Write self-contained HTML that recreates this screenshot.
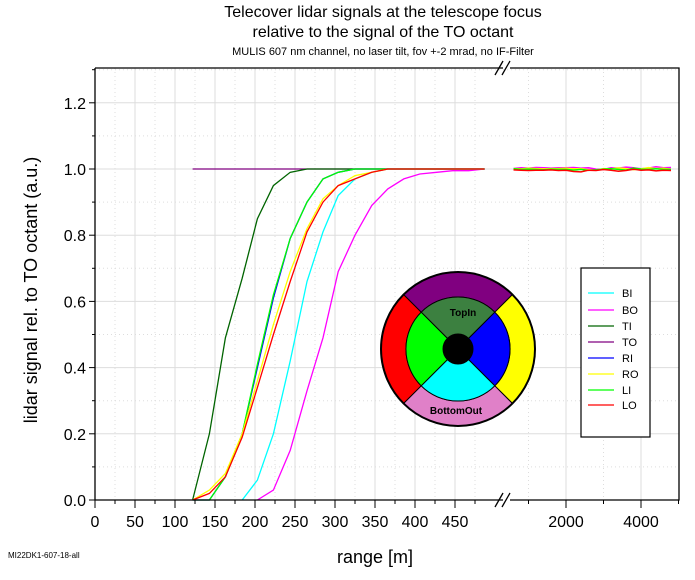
<!DOCTYPE html>
<html><head><meta charset="utf-8"><style>
body{margin:0;background:#fff;}
svg{display:block;font-family:"Liberation Sans",sans-serif;}
</style></head><body>
<svg id="c" width="695" height="580" viewBox="0 0 695 580"></svg>
<script>
const meters=[122,143,163,184,203,223,244,265,285,304,325,346,366,386,406,427,447,467,487];
const seriesNames=["BI","BO","TI","TO","RI","RO","LI","LO"];
const seriesColors=["#00ffff","#ff00ff","#006400","#800080","#0000ff","#ffff00","#00ff00","#ff0000"];
const BI=[null,null,null,0,0.06,0.20,0.42,0.66,0.81,0.92,0.97,0.99,1,1,1,1,1,1,1];
const BO=[null,null,null,null,0,0.03,0.15,0.33,0.49,0.69,0.80,0.89,0.94,0.97,0.985,0.99,0.995,0.995,1];
const TI=[0,0.20,0.49,0.67,0.85,0.95,0.99,1,1,1,1,1,1,1,1,1,1,1,1];
const TO=[1,1,1,1,1,1,1,1,1,1,1,1,1,1,1,1,1,1,1];
const RI=[0,0,0.07,0.20,0.40,0.61,0.79,0.90,0.97,0.99,1,1,1,1,1,1,1,1,1];
const RO=[0,0.03,0.08,0.20,0.36,0.53,0.69,0.82,0.91,0.95,0.98,0.99,1,1,1,1,1,1,1];
const LI=[0,0,0.07,0.20,0.41,0.62,0.79,0.90,0.97,0.99,1,1,1,1,1,1,1,1,1];
const LO=[0,0.02,0.07,0.19,0.34,0.50,0.66,0.81,0.90,0.95,0.97,0.99,1,1,1,1,1,1,1];
const farMeters=[600,800,1000,1200,1400,1600,1800,2000,2200,2400,2600,2800,3000,3200,3400,3600,3800,4000,4200,4400,4600,4800];
const farA=[1,1,1.002,1,1.001,1,0.999,1.001,1,1,0.998,1,0.997,0.999,1.001,1.002,1,0.998,1.004,1.001,1,1.002];
const farB=[0.998,1,0.999,1.001,1,0.999,1,1,1.001,0.999,1,0.996,0.995,1,0.999,1.002,1,0.997,0.999,1.003,1,1.001];
const yTicks=[0,0.2,0.4,0.6,0.8,1.0,1.2];
const xTicks1=[0,50,100,150,200,250,300,350,400,450];
const xTicks2=[2000,4000];

const svg=document.getElementById('c');
const NS='http://www.w3.org/2000/svg';
function el(t,a,p){const e=document.createElementNS(NS,t);for(const k in a)e.setAttribute(k,a[k]);(p||svg).appendChild(e);return e;}
const L=95,R=679,T=68,B=500;
const yS=v=>B-v*331;
const xS=m=>m<=500?95+m*0.8:491+m*0.0375;

for(let v=0.1;v<1.31;v+=0.1){const y=yS(v);const major=Math.round(v*10)%2===0;
 const g=el('line',{x1:L,x2:R,y1:y,y2:y,stroke:'#ddd','stroke-dasharray':major?'':'1,3'});
 }
for(let m=25;m<500;m+=25){const x=xS(m);const major=m%50===0;
 const g=el('line',{x1:x,x2:x,y1:T,y2:B,stroke:'#ddd','stroke-dasharray':major?'':'1,3'});
 }
for(let m=1000;m<5000;m+=1000){const x=xS(m);
 const g=el('line',{x1:x,x2:x,y1:T,y2:B,stroke:'#ddd','stroke-dasharray':m%2000===0?'':'1,3'});
 }

const all=[BI,BO,TI,TO,RI,RO,LI,LO];
const order=[3,2,1,0,4,6,5,7];
order.forEach(i=>{const d=all[i];let pts=[];
 d.forEach((v,j)=>{if(v!==null)pts.push(xS(meters[j]).toFixed(1)+','+yS(v).toFixed(1));});
 const p=el('polyline',{points:pts.join(' '),fill:'none',stroke:seriesColors[i],'stroke-width':1.3});
 });
[[farB,'#ff00ff'],[farB,'#ffff00'],[farA,'#00ff00'],[farB,'#ff0000']].forEach(([d,c],k)=>{
 const pts=farMeters.map((m,j)=>xS(m).toFixed(1)+','+(yS(d[(j+k)%d.length])+(k-1.5)*0.8).toFixed(1));
 const p=el('polyline',{points:pts.join(' '),fill:'none',stroke:c,'stroke-width':1.5});
 });

const ax=el('path',{d:`M${L},${T}V${B}H503M510,${B}H${R}V${T}H510M503,${T}H${L}`,fill:'none',stroke:'#000','stroke-width':1.3});

[T,B].forEach(y=>{[499,506].forEach(x=>{const b=el('line',{x1:x-4,y1:y+7,x2:x+4,y2:y-7,stroke:'#000','stroke-width':1.3});
 });});
yTicks.forEach(v=>{const y=yS(v);el('line',{x1:L-6,x2:L,y1:y,y2:y,stroke:'#000'});
 const t=el('text',{x:L-9,y:y+6,'text-anchor':'end','font-size':16});t.textContent=v.toFixed(1);
 });
for(let v=0.1;v<1.3;v+=0.2)el('line',{x1:L-3,x2:L,y1:yS(v),y2:yS(v),stroke:'#000'});
for(let m=0;m<500;m+=25)el('line',{x1:xS(m),x2:xS(m),y1:B,y2:B+(m%50===0?8:4),stroke:'#000'});
for(let m=1000;m<=5000;m+=1000)el('line',{x1:xS(m),x2:xS(m),y1:B,y2:B+(m%2000===0?8:4),stroke:'#000'});
xTicks1.concat(xTicks2).forEach(m=>{const t=el('text',{x:xS(m),y:B+27,'text-anchor':'middle','font-size':16});t.textContent=m;
 });

[['Telecover lidar signals at the telescope focus',383,17,16,'chart-title'],['relative to the signal of the TO octant',383,37,16,'chart-title-line2'],
 ['MULIS 607 nm channel, no laser tilt, fov +-2 mrad, no IF-Filter',383,55,11,'chart-subtitle'],['range [m]',375,563,18,'x-axis-title'],
 ['MI22DK1-607-18-all',8,558,8,'figure-id']].forEach(([s,x,y,f,n])=>{
 const t=el('text',{x:x,y:y,'text-anchor':n==='figure-id'?'start':'middle','font-size':f});t.textContent=s;
 });
const yt=el('text',{x:0,y:0,'text-anchor':'middle','font-size':18,transform:'translate(37,290) rotate(-90)'});
yt.textContent='lidar signal rel. to TO octant (a.u.)';


const cx=458,cy=349,ro=77,ri=52,rh=15;
function sector(r1,r2,a1,a2,c,n){const r=a=>a*Math.PI/180;
 const p=(rr,a)=>(cx+rr*Math.cos(r(a))).toFixed(1)+','+(cy+rr*Math.sin(r(a))).toFixed(1);
 const s=el('path',{d:`M${p(r1,a1)}L${p(r2,a1)}A${r2},${r2} 0 0 1 ${p(r2,a2)}L${p(r1,a2)}A${r1},${r1} 0 0 0 ${p(r1,a1)}Z`,fill:c,stroke:'#000','stroke-width':1});
 }
sector(ri,ro,225,315,'#800080','octant-top-out');sector(ri,ro,315,405,'#ffff00','octant-right-out');
sector(ri,ro,45,135,'#e080c8','octant-bottom-out');sector(ri,ro,135,225,'#ff0000','octant-left-out');
sector(rh,ri,225,315,'#3c8040','octant-top-in');sector(rh,ri,315,405,'#0000ff','octant-right-in');
sector(rh,ri,45,135,'#00ffff','octant-bottom-in');sector(rh,ri,135,225,'#00ff00','octant-left-in');
const oc=el('circle',{cx:cx,cy:cy,r:ro,fill:'none',stroke:'#000','stroke-width':2});
const hc=el('circle',{cx:cx,cy:cy,r:rh,fill:'#000'});
[['TopIn',463,316],['BottomOut',456,414]].forEach(([s,x,y])=>{const t=el('text',{x:x,y:y,'text-anchor':'middle','font-size':10,'font-weight':'bold'});t.textContent=s;
 });

const lb=el('rect',{x:581,y:268,width:69,height:169,fill:'#fff',stroke:'#000','stroke-width':1.2});

const ly=[293,310,326,342,358,374,390,405];
seriesNames.forEach((n,i)=>{const g=el('g',{});
 el('line',{x1:588,x2:614,y1:ly[i],y2:ly[i],stroke:seriesColors[i],'stroke-width':1.3},g);
 const t=el('text',{x:622,y:ly[i]+4,'font-size':11},g);t.textContent=n;});
</script>
</body></html>
